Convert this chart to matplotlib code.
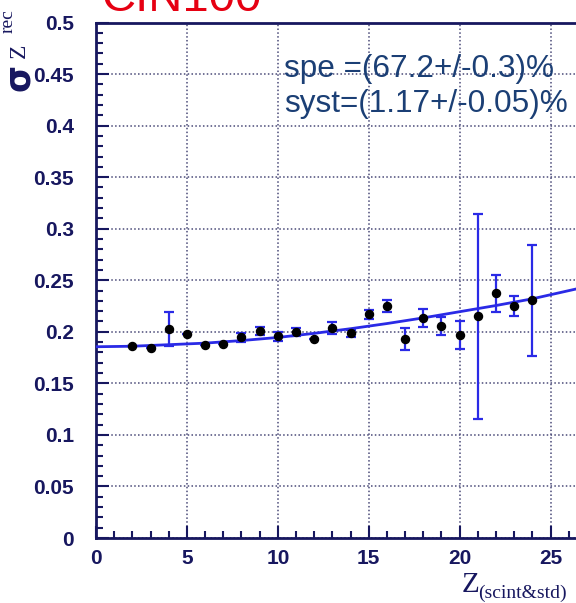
import matplotlib.pyplot as plt
from matplotlib.ticker import MultipleLocator, FuncFormatter

z = [2, 3, 4, 5, 6, 7, 8, 9, 10, 11, 12, 13, 14, 15, 16, 17, 18, 19, 20, 21, 22, 23, 24]
sigma = [0.186, 0.1845, 0.2025, 0.1975, 0.187, 0.1885, 0.1945, 0.2005, 0.1955, 0.1995,
         0.1935, 0.2035, 0.1985, 0.217, 0.225, 0.193, 0.2135, 0.2055, 0.1965, 0.215,
         0.2375, 0.225, 0.2305]
err = [0.0, 0.0, 0.0165, 0.0, 0.0, 0.0, 0.004, 0.004, 0.004, 0.004,
       0.0, 0.006, 0.0035, 0.0045, 0.006, 0.0105, 0.009, 0.0085, 0.0135, 0.0995,
       0.018, 0.010, 0.054]

# fitted curve, read at a few Z values
fit_z = [0, 2, 4, 6, 8, 10, 12, 14, 16, 18, 20, 22, 24, 26.4]
fit_sigma = [0.1855, 0.186, 0.1875, 0.189, 0.1915, 0.1945, 0.1985, 0.203, 0.208,
             0.2135, 0.2195, 0.2255, 0.232, 0.2415]

navy = '#17175f'
blue = '#2a2ae6'
txtcol = '#1b3f75'

fig = plt.figure(figsize=(5.76, 6.03), dpi=100)
ax = fig.add_axes([96 / 576, 1 - 538 / 603, 1 - 96 / 576, (538 - 22.5) / 603])

ax.errorbar(z, sigma, yerr=err, fmt='none', ecolor=blue, elinewidth=1.6,
            capsize=3.5, capthick=1.6, zorder=3)
ax.plot(fit_z, fit_sigma, color=blue, lw=2, zorder=4)
ax.plot(z, sigma, 'o', color='black', ms=5.8, zorder=5)

ax.set_xlim(0, 26.4)
ax.set_ylim(0, 0.5)
ax.xaxis.set_major_locator(MultipleLocator(5))
ax.xaxis.set_minor_locator(MultipleLocator(1))
ax.yaxis.set_major_locator(MultipleLocator(0.05))
ax.yaxis.set_minor_locator(MultipleLocator(0.01))
ax.yaxis.set_major_formatter(FuncFormatter(lambda v, p: '%g' % round(v, 2)))

ax.grid(True, which='major', color='#4a4a78', linestyle=(0, (1, 1.5)), lw=1.1)
ax.set_axisbelow(True)

for s in ['left', 'bottom', 'top']:
    ax.spines[s].set_color(navy)
    ax.spines[s].set_linewidth(2)
ax.spines['right'].set_visible(False)

ax.tick_params(which='both', direction='in', color=navy, width=1.5, top=False, right=False)
ax.tick_params(which='major', length=9)
ax.tick_params(which='minor', length=5)
ax.tick_params(axis='y', pad=16)
ax.tick_params(axis='x', pad=8)
for lab in ax.get_xticklabels() + ax.get_yticklabels():
    lab.set_family('Liberation Sans')
    lab.set_fontweight('bold')
    lab.set_fontsize(15)
    lab.set_color(navy)

# fit parameters
fig.text(284 / 576, 1 - 77 / 603, 'spe =(67.2+/-0.3)%', family='Liberation Sans',
         fontsize=22.7, color=txtcol, va='baseline', ha='left')
fig.text(284 / 576, 1 - 112 / 603, 'syst=(1.17+/-0.05)%', family='Liberation Sans',
         fontsize=22.7, color=txtcol, va='baseline', ha='left')

# title, cut off at top
fig.text(102 / 576, 1 - 11 / 603, 'CIN100', family='Liberation Sans', fontsize=34,
         color='#e60012', va='baseline', ha='left')

# y label pieces
fig.text(19 / 576, 1 - 77 / 603, 'σ', family='DejaVu Sans', fontweight='bold',
         fontsize=25, color=navy, rotation=90, ha='center', va='center')
fig.text(19 / 576, 1 - 51 / 603, 'Z', family='Liberation Serif', fontsize=17,
         color=navy, rotation=90, ha='center', va='center')
fig.text(8 / 576, 1 - 21 / 603, 'rec', family='Liberation Serif', fontsize=14,
         color=navy, rotation=90, ha='center', va='center')

# x label
fig.text(462 / 576, 1 - 592 / 603, 'Z', family='Liberation Serif', fontsize=21,
         color=navy, va='baseline', ha='left')
fig.text(478 / 576, 1 - 598 / 603, '(scint&std)', family='Liberation Serif', fontsize=14,
         color=navy, va='baseline', ha='left')

fig.savefig('out.png', dpi=100)
